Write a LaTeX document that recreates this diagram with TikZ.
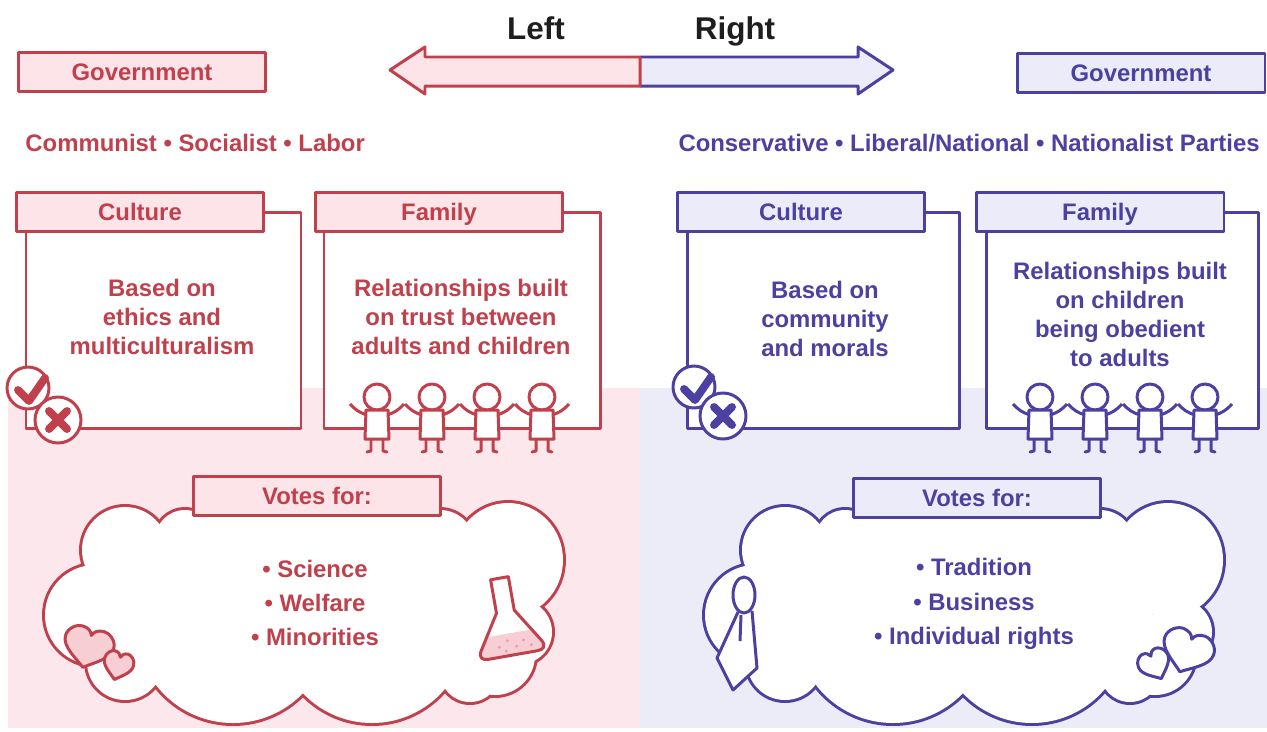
\documentclass[tikz,border=0pt]{standalone}
\usepackage{fontspec}
\setmainfont{Liberation Sans}
\definecolor{lred}{RGB}{192,64,76}
\definecolor{lpink}{RGB}{252,228,232}
\definecolor{lband}{RGB}{252,232,236}
\definecolor{hpink}{RGB}{246,206,212}
\definecolor{dotpink}{RGB}{228,160,172}
\definecolor{rblue}{RGB}{76,64,160}
\definecolor{rlav}{RGB}{236,235,250}
\definecolor{rband}{RGB}{236,236,248}
\definecolor{ink}{RGB}{30,30,30}
\tikzset{
  heart/.pic={\path[pic actions] (0,-1) .. controls (-0.35,-0.65) and (-1,-0.25) .. (-1,0.3)
    .. controls (-1,0.75) and (-0.65,1) .. (-0.45,1) .. controls (-0.2,1) and (-0.05,0.85) .. (0,0.65)
    .. controls (0.05,0.85) and (0.2,1) .. (0.45,1) .. controls (0.65,1) and (1,0.75) .. (1,0.3)
    .. controls (1,-0.25) and (0.35,-0.65) .. (0,-1) -- cycle;}
}
\begin{document}
\begin{tikzpicture}[x=0.02cm, y=0.02cm, line width=1.7pt, line join=round,
  every node/.style={inner sep=0pt, font=\bfseries\fontsize{13.6}{16.5}\selectfont},
  headbox/.style={draw, minimum width=4.96cm, minimum height=0.78cm, text height=9.7pt, text depth=0pt},
  lhead/.style={headbox, draw=lred, fill=lpink, text=lred},
  rhead/.style={headbox, draw=rblue, fill=rlav, text=rblue},
  items/.style={align=center, font=\bfseries\fontsize{13.6}{19.6}\selectfont},
  bigword/.style={text=ink, anchor=base, font=\bfseries\fontsize{17.9}{20}\selectfont}]
\useasboundingbox (0,0) rectangle (1267,-731);
\fill[lband] (8,-388) rectangle (640,-728);
\fill[rband] (640,-388) rectangle (1267,-728);

\fill[rlav] (640,-57) -- (858,-57) -- (858,-47) -- (893,-70) -- (858,-94) -- (858,-86) -- (640,-86) -- cycle;
\draw[rblue] (640,-57) -- (858,-57) -- (858,-47) -- (893,-70) -- (858,-94) -- (858,-86) -- (640,-86);
\draw[lred, fill=lpink] (640,-57) -- (425,-57) -- (425,-47) -- (390,-70) -- (425,-94) -- (425,-86) -- (640,-86) -- cycle;
\node[bigword] (left) at (536,-39) {Left};
\node[bigword] (right) at (735,-39) {Right};

\node[lhead] (govL) at (142,-72) {Government};
\node[rhead] (govR) at (1141,-73) {Government};
\node[text=lred, anchor=west] (partiesL) at (24,-143) {Communist • Socialist • Labor};
\node[text=rblue, anchor=west] (partiesR) at (677,-143) {Conservative • Liberal/National • Nationalist Parties};

\foreach \xl/\xr/\col in {26/301/lred, 324/600/lred, 687/959/rblue, 986/1258/rblue}
  \draw[\col, fill=white] (\xl,-212) rectangle (\xr,-428);
\node[lhead] (cultL) at (140,-212) {Culture};
\node[lhead] (famL) at (439,-212) {Family};
\node[rhead] (cultR) at (801,-212) {Culture};
\node[rhead] (famR) at (1100,-212) {Family};
\node[text=lred, align=center] (cultLtxt) at (162,-317) {Based on\\ethics and\\multiculturalism};
\node[text=lred, align=center] (famLtxt) at (461,-317) {Relationships built\\on trust between\\adults and children};
\node[text=rblue, align=center] (cultRtxt) at (825,-319) {Based on\\community\\and morals};
\node[text=rblue, align=center] (famRtxt) at (1120,-314) {Relationships built\\on children\\being obedient\\to adults};

\foreach \ax/\ay/\bx/\by/\col in {28/388/58/420/lred, 694/387/723/416/rblue} {
  \draw[\col, fill=white] (\ax,-\ay) circle (21);
  \draw[\col, line width=4.5pt, line cap=round] (\ax-10,-\ay-2) -- (\ax+1,-\ay-13) -- (\ax+17,-\ay+10);
  \draw[\col, fill=white] (\bx,-\by) circle (23);
  \draw[\col, line width=4.5pt, line cap=round] (\bx-9,-\by+9) -- (\bx+9,-\by-9) (\bx+9,-\by+9) -- (\bx-9,-\by-9);
}

\foreach \hx/\col in {377/lred, 432/lred, 487/lred, 542/lred, 1040/rblue, 1095/rblue, 1150/rblue, 1205/rblue} {
  \draw[\col] (\hx-10,-415) to[bend left=15] (\hx-27,-404) (\hx+10,-415) to[bend right=15] (\hx+27,-404);
  \draw[\col, fill=white] (\hx,-397) circle (13);
  \draw[\col, fill=white] (\hx-11,-410) -- (\hx+11,-410) -- (\hx+12,-439) -- (\hx-12,-439) -- cycle;
  \draw[\col, line cap=round] (\hx-6,-439) -- (\hx-6,-451) -- (\hx-10,-452) (\hx+6,-439) -- (\hx+6,-451) -- (\hx+10,-452);
}

\foreach \dx/\col in {0/lred, 660/rblue} {
  \begin{scope}[shift={(\dx,0)}]
    \foreach \cx/\cy/\r in {125/550/43, 185/540/30, 95/615/50, 125/662/38, 233/626/97, 372/628/95, 470/672/30, 495/655/40, 520/632/32, 440/545/35}
      \draw[\col, line width=3.4pt] (\cx,-\cy) circle (\r);
    \draw[\col, line width=3.4pt] (508,-560) ellipse [x radius=55, y radius=57];
    \foreach \cx/\cy/\r in {125/550/43, 185/540/30, 95/615/50, 125/662/38, 233/626/97, 372/628/95, 470/672/30, 495/655/40, 520/632/32, 440/545/35}
      \fill[white] (\cx,-\cy) circle (\r);
    \fill[white] (508,-560) ellipse [x radius=55, y radius=57];
    \fill[white] (150,-560) -- (193,-512) -- (441,-512) -- (470,-540) -- (498,-600) -- (468,-676) -- (135,-676) -- (90,-600) -- cycle;
  \end{scope}
}
\node[lhead] (votesL) at (317,-496) {Votes for:};
\node[rhead] (votesR) at (977,-498) {Votes for:};
\node[items, text=lred] (itemsL) at (315,-603) {• Science\\• Welfare\\• Minorities};
\node[items, text=rblue] (itemsR) at (974,-604) {• Tradition\\• Business\\• Individual rights};

\pic[draw=lred, fill=hpink, rotate=-15, xscale=25, yscale=20] at (88,-648) {heart};
\pic[draw=lred, fill=hpink, rotate=-15, xscale=15, yscale=14] at (118,-666) {heart};
\pic[draw=rblue, fill=white, rotate=-20, xscale=26, yscale=21] at (1187,-652) {heart};
\pic[draw=rblue, fill=white, rotate=25, xscale=16, yscale=15] at (1155,-665) {heart};

\begin{scope}[shift={(513,-655)}, rotate=10]
  \fill[white] (-9,78) -- (-9,44) -- (-31,9) .. controls (-34,3) and (-31,0) .. (-25,0) -- (25,0) .. controls (31,0) and (34,3) .. (31,9) -- (9,44) -- (9,78) -- cycle;
  \fill[hpink] (-22.4,22) -- (-31,9) .. controls (-34,3) and (-31,0) .. (-25,0) -- (25,0) .. controls (31,0) and (34,3) .. (31,9) -- (22.4,22) -- cycle;
  \foreach \px/\py in {-12/10, -3/15, 5/8, 13/13, -6/5, 20/7}
    \fill[dotpink] (\px,\py) circle (1.6);
  \draw[lred] (-9,78) -- (-9,44) -- (-31,9) .. controls (-34,3) and (-31,0) .. (-25,0) -- (25,0) .. controls (31,0) and (34,3) .. (31,9) -- (9,44) -- (9,78) -- cycle;
\end{scope}

\draw[rblue, fill=white] (738,-612) -- (717,-658) -- (733,-690) -- (757,-668) -- (752,-611);
\draw[rblue, fill=white] (744,-595) ellipse [x radius=11, y radius=18];
\draw[rblue] (741,-615) -- (740,-641);
\end{tikzpicture}
\end{document}
